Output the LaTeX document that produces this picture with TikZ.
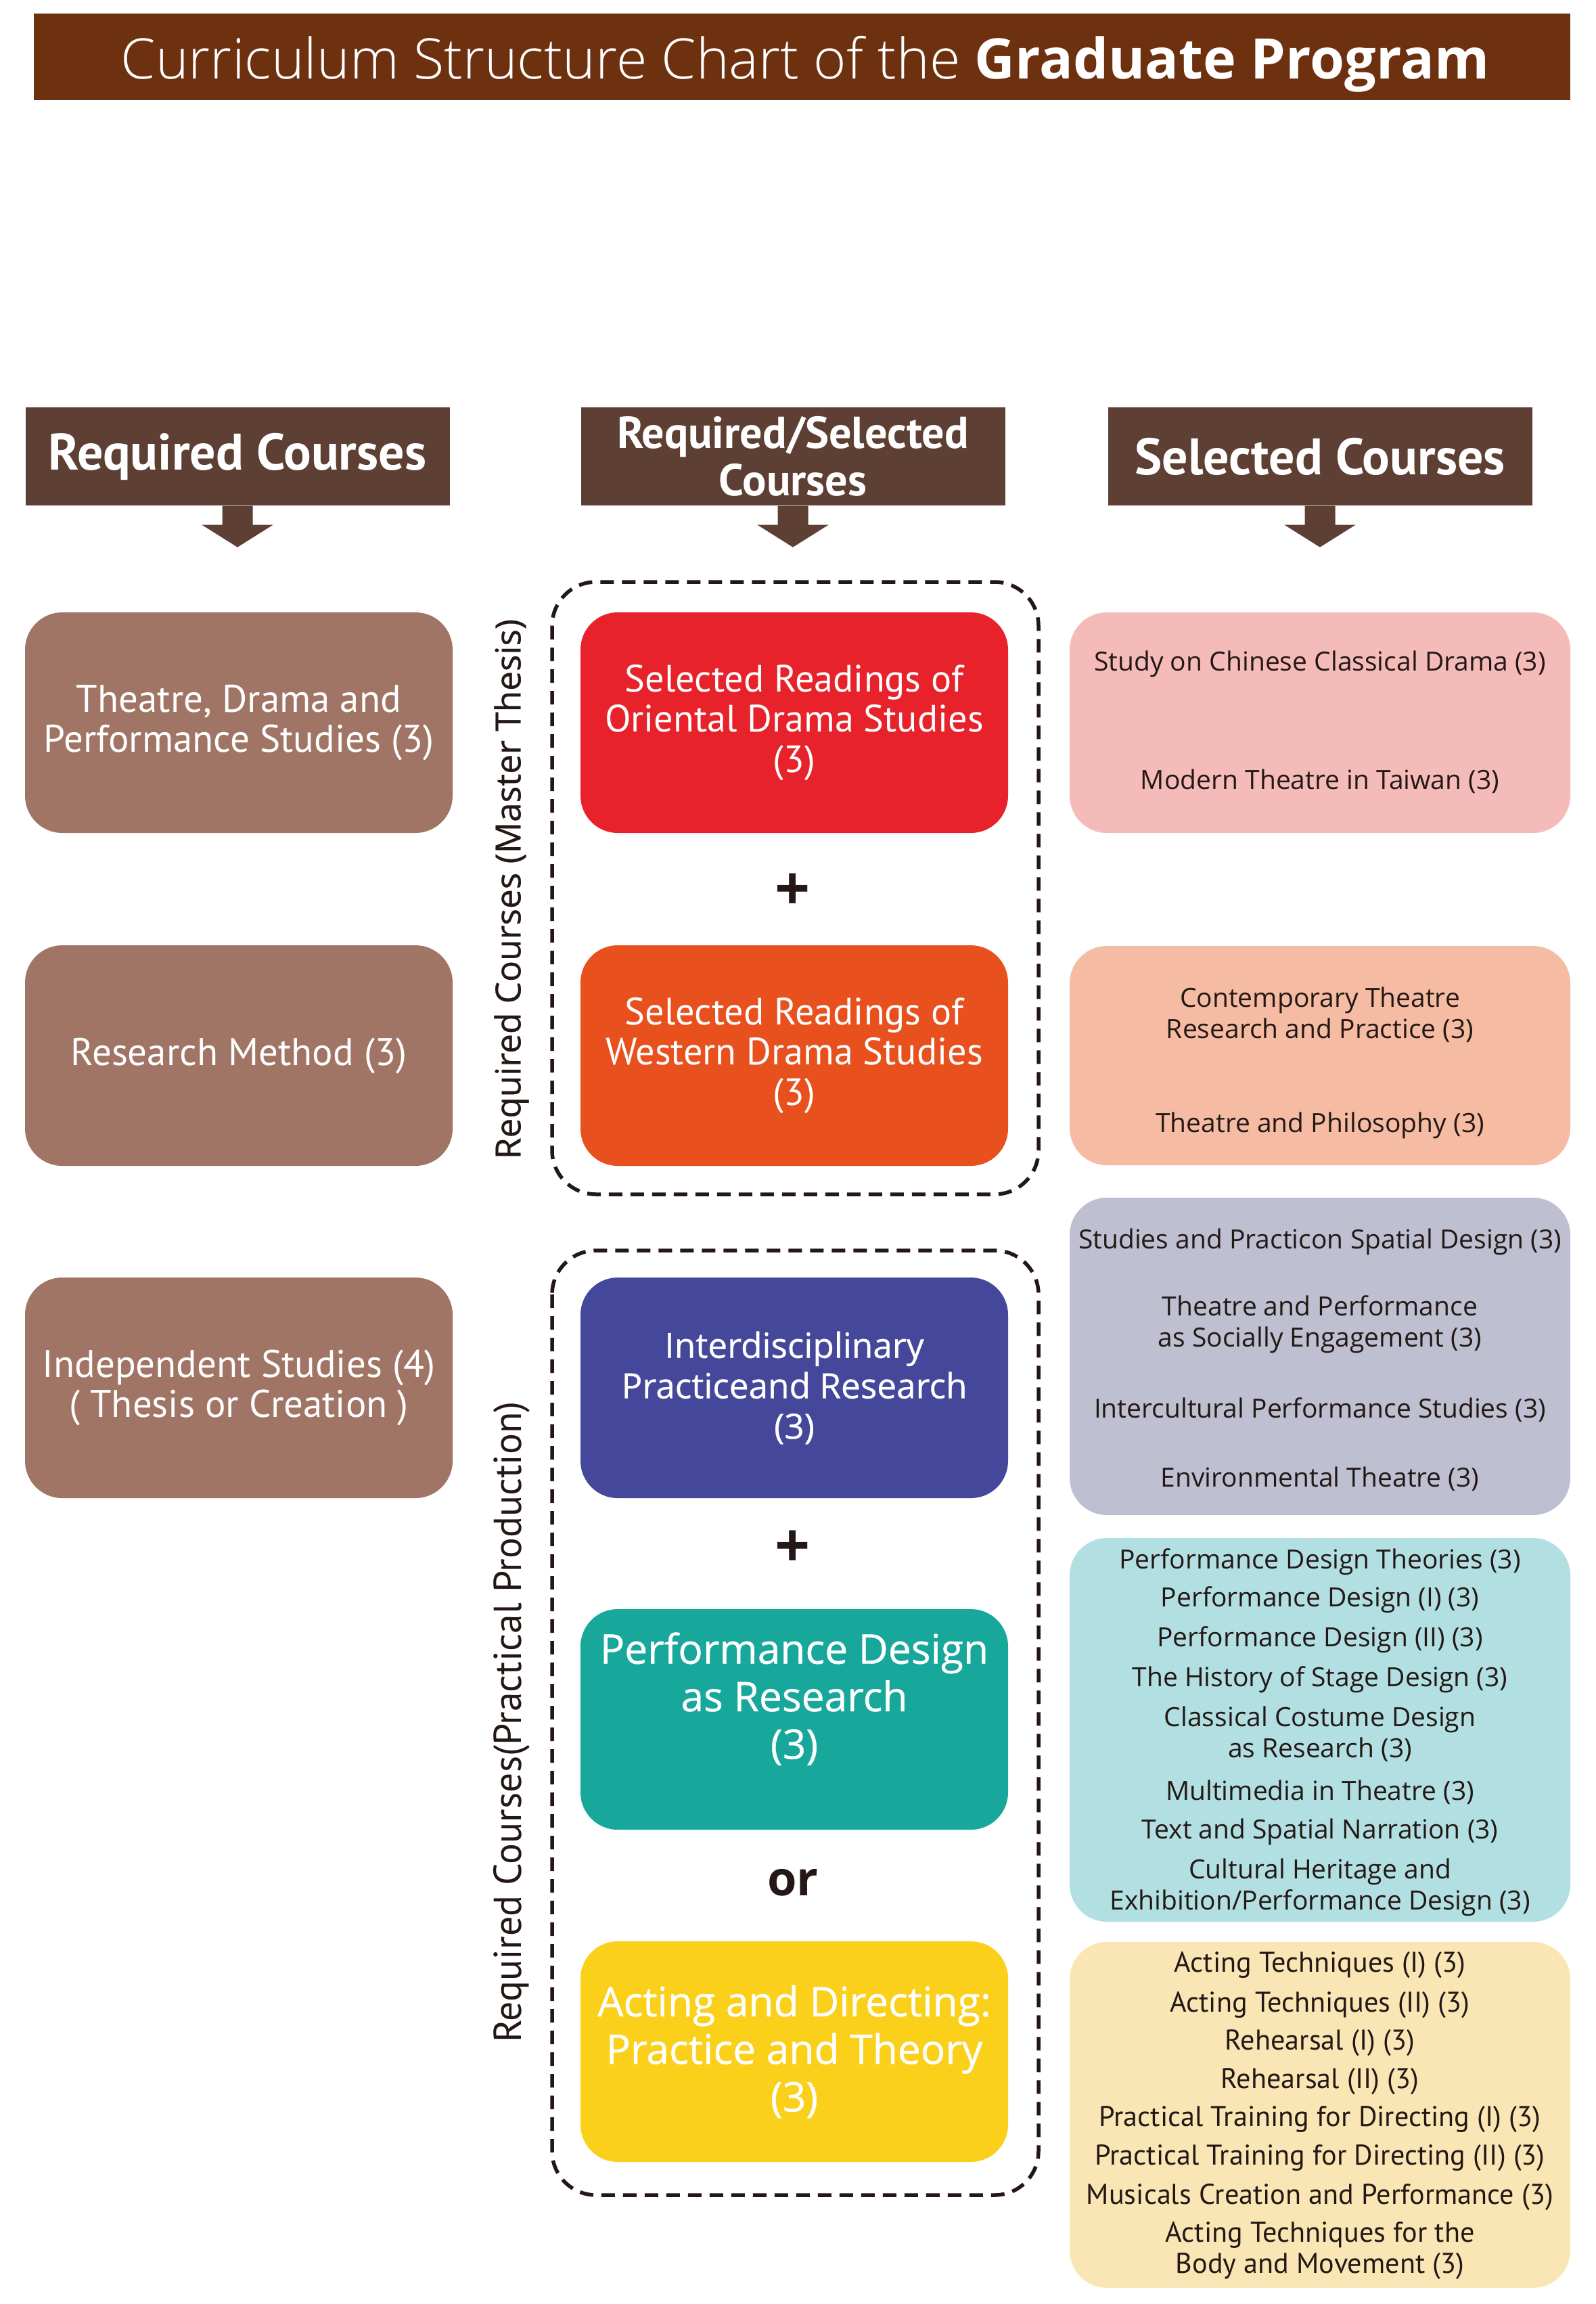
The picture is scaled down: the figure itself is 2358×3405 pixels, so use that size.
\documentclass[tikz,border=0pt]{standalone}
\usepackage{fontspec}
\setmainfont{Open Sans}
\newfontfamily\myriad{PT Sans}
\newfontfamily\titlelight{Open Sans Light}
\newfontfamily\segoesemi[FakeBold=0.6]{Open Sans}
\usetikzlibrary{positioning}

\definecolor{titlebrown}{HTML}{6E3110}
\definecolor{hdrbrown}{HTML}{5E3F33}
\definecolor{reqbrown}{HTML}{A07565}
\definecolor{orired}{HTML}{E7222B}
\definecolor{westorange}{HTML}{E8511E}
\definecolor{interblue}{HTML}{45489A}
\definecolor{designteal}{HTML}{18A79B}
\definecolor{actyellow}{HTML}{FBD01A}
\definecolor{selpink}{HTML}{F5BBB9}
\definecolor{selsalmon}{HTML}{F5BCA3}
\definecolor{sellilac}{HTML}{BEBFD0}
\definecolor{selcyan}{HTML}{B2DFE2}
\definecolor{selcream}{HTML}{FAE6B4}
\definecolor{inkdark}{HTML}{231815}

\tikzset{
  titlebar/.style={fill=titlebrown, minimum width=227.1mm, minimum height=12.8mm, inner sep=0pt},
  hdr/.style={fill=hdrbrown, text=white, minimum width=62.7mm, minimum height=14.5mm, inner sep=0pt, align=center,
    font=\myriad\bfseries\fontsize{21.6}{20}\selectfont},
  hdrarrow/.style={fill=hdrbrown},
  coursebox/.style={rounded corners=5.5mm, minimum width=63.2mm, minimum height=32.6mm, inner sep=0pt, align=center, text=white},
  reqbox/.style={coursebox, fill=reqbrown, font=\myriad\fontsize{16.2}{16.8}\selectfont},
  readbox/.style={coursebox, font=\myriad\fontsize{16}{17}\selectfont},
  prodbox/.style={coursebox, font=\segoesemi\fontsize{17.2}{20}\selectfont},
  selbox/.style={rounded corners=5.5mm, minimum width=74mm, inner sep=0pt},
  item/.style={text=inkdark, align=center, inner sep=0pt, font=\fontsize{11.1}{13}\selectfont},
  cremeitem/.style={text=inkdark, align=center, inner sep=0pt, font=\myriad\fontsize{12}{13}\selectfont},
  dashbox/.style={draw=inkdark, line width=0.55mm, dash pattern=on 2mm off 1.2mm, rounded corners=6.5mm},
  joiner/.style={text=inkdark, font=\bfseries\fontsize{20}{20}\selectfont},
  sidelabel/.style={text=inkdark, rotate=90, inner sep=0pt}
}

\begin{document}
\begin{tikzpicture}[x=0.1mm, y=-0.1mm]
\useasboundingbox (0,0) rectangle (2358,3405);

% title
\node[titlebar] (title) at (1185.5,84) {};
\node[text=white, inner sep=0pt] (titletext) at (1190,95) {\fontsize{23.5}{23.5}\selectfont{\titlelight Curriculum Structure Chart of the} \textbf{Graduate Program}};

% column headers
\node[hdr] (hreq) at (351,674.5) {Required Courses};
\node[hdr, font=\myriad\bfseries\fontsize{18.8}{19.8}\selectfont] (hrs) at (1172,674.5) {Required/Selected\\Courses};
\node[hdr] (hsel) at (1951,674.5) {Selected Courses};

\foreach \h in {hreq,hrs,hsel}
  \fill[hdrarrow] (\h.south) ++(-22.5,0) -- ++(0,28) -- ++(-30,0) -- ++(52.5,33) -- ++(52.5,-33) -- ++(-30,0) -- ++(0,-28) -- cycle;

% required courses
\node[reqbox] (tdp) at (353,1068) {Theatre, Drama and\\Performance Studies (3)};
\node[reqbox] (rmeth) at (353,1560) {Research Method (3)};
\node[reqbox] (indep) at (353,2051) {Independent Studies (4)\\( Thesis or Creation )};

% required/selected: master thesis
\draw[dashbox] (816,860) rectangle (1535,1765);
\node[readbox, fill=orired] (orient) at (1174,1068) {Selected Readings of\\Oriental Drama Studies\\(3)};
\node[joiner, font=\bfseries\fontsize{26}{26}\selectfont] (plus1) at (1172,1318) {+};
\node[readbox, fill=westorange] (western) at (1174,1560) {Selected Readings of\\Western Drama Studies\\(3)};
\node[sidelabel, font=\segoesemi\fontsize{14.6}{14.6}\selectfont] (mthesis) at (756,1314) {Required Courses (Master Thesis)};

% required/selected: practical production
\draw[dashbox] (816,1848) rectangle (1535,3244);
\node[prodbox, fill=interblue, font=\segoesemi\fontsize{14.6}{17}\selectfont] (inter) at (1174,2051) {Interdisciplinary\\Practiceand Research\\(3)};
\node[joiner, font=\bfseries\fontsize{26}{26}\selectfont] (plus2) at (1172,2289) {+};
\node[prodbox, fill=designteal] (pdesign) at (1174,2541) {Performance Design\\as Research\\(3)\\\mbox{}};
\node[joiner] (or) at (1172,2782) {or};
\node[prodbox, fill=actyellow] (acting) at (1174,3032) {Acting and Directing:\\Practice and Theory\\(3)};
\node[sidelabel, font=\myriad\fontsize{16.4}{16.4}\selectfont] (pprod) at (756,2545) {Required Courses(Practical Production)};

% selected courses
\node[selbox, fill=selpink, minimum height=32.6mm] (chinese) at (1951,1068) {};
\node[selbox, fill=selsalmon, minimum height=32.4mm] (contemp) at (1951,1560) {};
\node[selbox, fill=sellilac, minimum height=46.9mm] (spatial) at (1951,2004.5) {};
\node[selbox, fill=selcyan, minimum height=56.7mm] (pdtheory) at (1951,2556.5) {};
\node[selbox, fill=selcream, minimum height=51.1mm] (actech) at (1951,3125.5) {};

\foreach \yy/\txt [count=\i] in {981/{Study on Chinese Classical Drama (3)}, 1155/{Modern Theatre in Taiwan (3)},
    1500/{Contemporary Theatre\\Research and Practice (3)}, 1663/{Theatre and Philosophy (3)},
    1835/{Studies and Practicon Spatial Design (3)}, 1957/{Theatre and Performance\\as Socially Engagement (3)},
    2084/{Intercultural Performance Studies (3)}, 2186/{Environmental Theatre (3)},
    2308/{Performance Design Theories (3)}, 2364/{Performance Design (I) (3)},
    2423/{Performance Design (II) (3)}, 2482/{The History of Stage Design (3)},
    2563/{Classical Costume Design\\as Research (3)}, 2649/{Multimedia in Theatre (3)},
    2707/{Text and Spatial Narration (3)}, 2789/{Cultural Heritage and\\Exhibition/Performance Design (3)}}
  \node[item] (sel-\i) at (1951,\yy) {\txt};

\foreach \yy/\txt [count=\i] in {2904/{Acting Techniques (I) (3)}, 2963/{Acting Techniques (II) (3)},
    3019/{Rehearsal (I) (3)}, 3076/{Rehearsal (II) (3)},
    3132/{Practical Training for Directing (I) (3)}, 3189/{Practical Training for Directing (II) (3)},
    3247/{Musicals Creation and Performance (3)}, 3326/{Acting Techniques for the\\Body and Movement (3)}}
  \node[cremeitem] (act-\i) at (1951,\yy) {\txt};

\end{tikzpicture}
\end{document}
